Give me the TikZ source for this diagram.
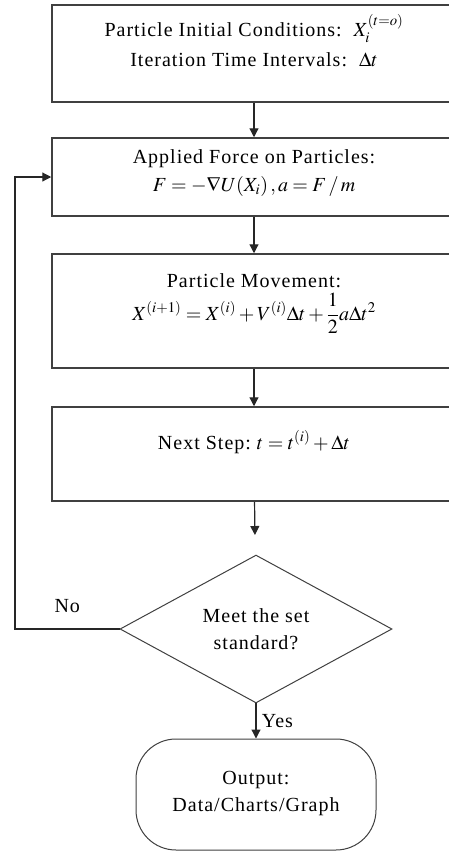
\documentclass[tikz,border=0pt]{standalone}
\usepackage{amsmath}
\usepackage{mathptmx}
\usepackage{fontspec}
\setmainfont{Liberation Serif}[LetterSpace=5]
\usetikzlibrary{arrows.meta,shapes.geometric}

\begin{document}
\begin{tikzpicture}[x=1pt,y=-1pt,font=\fontsize{20}{27}\selectfont,>={Triangle[length=9pt,width=9pt]},
  procbox/.style={rectangle,draw=black!75,line width=1.5pt,fill=white,minimum width=404pt,align=center,inner sep=0pt},
  decide/.style={diamond,draw=black!75,line width=1pt,fill=white,minimum width=272pt,minimum height=134pt,align=center,inner sep=0pt},
  endbox/.style={rectangle,rounded corners=40pt,draw=black!75,line width=1pt,fill=white,minimum width=240pt,minimum height=111pt,align=center,inner sep=0pt},
  flow/.style={->,draw=black!85,line width=1.2pt}]
\clip (0,0) rectangle (449,852);
\node[procbox,minimum height=97pt,text depth=26pt] (init) at (254,53.5) {Particle Initial Conditions:\ \ $X_i^{(t=o)}$\\[3pt]Iteration Time Intervals:\ \ $\Delta t$};
\node[procbox,minimum height=78pt,text depth=12pt] (force) at (254,177) {Applied Force on Particles:\\[1pt]$F=-\nabla U(X_i)\,,a=F\,/\,m$};
\node[procbox,minimum height=114pt,text depth=28pt] (move) at (254,311) {Particle Movement:\\[4pt]$X^{(i+1)}=X^{(i)}+V^{(i)}\Delta t+\dfrac{1}{2}a\Delta t^2$};
\node[procbox,minimum height=94pt,text depth=28pt] (next) at (254,454) {Next Step:\ $t=t^{(i)}+\Delta t$};
\node[decide] (check) at (256,629) {Meet the set\\standard?};
\node[endbox,text depth=7pt] (out) at (256,794.5) {Output:\\Data/Charts/Graph};
\coordinate (back) at (15,629);
\draw[flow] (init) -- (force);
\draw[flow] (force) -- (move);
\draw[flow] (move) -- (next);
\draw[flow,shorten >=20pt] (next) -- (check);
\draw[flow] (check) -- node[right=2pt] {Yes} (out);
\draw[flow] (check.west) -- node[above=12pt] {No} (back) |- (force.west);
\end{tikzpicture}
\end{document}
